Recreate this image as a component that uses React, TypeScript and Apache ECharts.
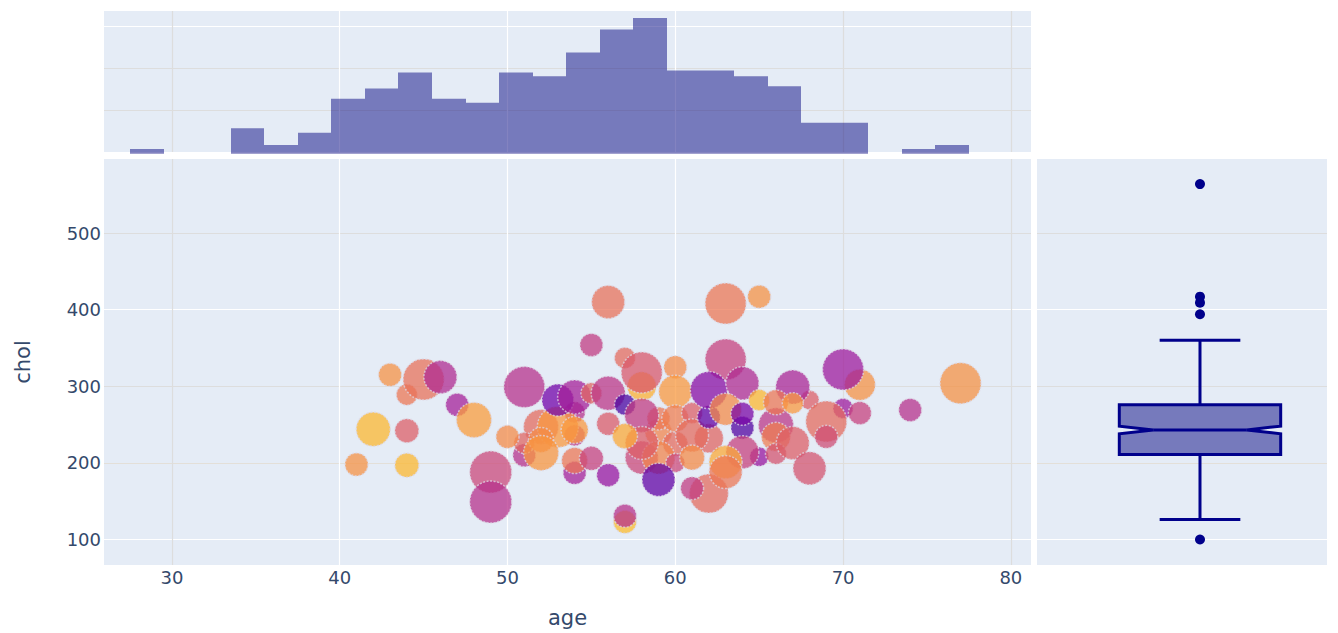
import React, { useEffect, useRef } from "react";
import * as echarts from "echarts";

const xTicks = [30, 40, 50, 60, 70, 80];
const yTicks = [100, 200, 300, 400, 500];
const histTicks = [10, 20, 30];

const binStarts = [27.5, 33.5, 35.5, 37.5, 39.5, 41.5, 43.5, 45.5, 47.5, 49.5, 51.5, 53.5, 55.5, 57.5, 59.5, 61.5, 63.5, 65.5, 67.5, 69.5, 73.5, 75.5];
const binCounts = [0.72, 5.67, 1.67, 4.6, 12.75, 15.2, 19, 12.75, 11.8, 19, 18.1, 23.8, 29.3, 32, 19.5, 19.5, 18.1, 15.7, 7, 7, 0.72, 1.67];

const ages = [59, 60, 59, 54, 54, 51, 52, 51, 53, 54, 52, 52, 41, 42, 43, 44, 44, 44, 45, 46, 47, 48, 49, 49, 50, 51, 53, 54, 55, 55, 56, 54, 54, 55, 56, 56, 56, 57, 57, 57, 58, 57, 58, 60, 60, 60, 61, 58, 58, 59, 58, 57, 60, 59, 62, 62, 61, 61, 61, 63, 63, 65, 62, 62, 64, 63, 64, 64, 65, 66, 65, 64, 63, 63, 68, 67, 66, 67, 66, 66, 67, 68, 71, 70, 70, 71, 69, 69, 74, 77];
const chols = [240, 225, 258, 266, 236, 210, 247, 226, 247, 243, 230, 213, 198, 244, 315, 289, 242, 197, 309, 312, 276, 256, 188, 149, 234, 299, 282, 286, 291, 354, 410, 187, 203, 206, 184, 291, 251, 123, 131, 337, 300, 276, 318, 325, 293, 258, 265, 262, 207, 207, 226, 235, 200, 178, 232, 160, 167, 236, 207, 335, 408, 417, 260, 295, 304, 270, 246, 264, 282, 249, 208, 214, 201, 188, 282, 299, 279, 278, 234, 212, 226, 193, 302, 322, 271, 265, 254, 234, 269, 304];
const heats = [0.7, 0.62, 0.66, 0.42, 0.44, 0.42, 0.62, 0.6, 0.76, 0.76, 0.72, 0.75, 0.74, 0.84, 0.74, 0.66, 0.58, 0.84, 0.64, 0.4, 0.36, 0.77, 0.5, 0.42, 0.72, 0.42, 0.22, 0.36, 0.6, 0.46, 0.64, 0.36, 0.66, 0.48, 0.32, 0.44, 0.57, 0.85, 0.42, 0.62, 0.82, 0.12, 0.56, 0.72, 0.76, 0.68, 0.58, 0.46, 0.5, 0.7, 0.58, 0.8, 0.5, 0.18, 0.6, 0.62, 0.46, 0.62, 0.72, 0.48, 0.66, 0.74, 0.18, 0.28, 0.4, 0.72, 0.14, 0.24, 0.84, 0.44, 0.32, 0.48, 0.8, 0.66, 0.58, 0.38, 0.66, 0.76, 0.68, 0.54, 0.58, 0.54, 0.74, 0.34, 0.34, 0.48, 0.62, 0.52, 0.42, 0.74];
const sizes = [28, 26, 24, 22, 22, 24, 36, 22, 42, 28, 26, 36, 24, 35, 24, 22, 25, 25, 42, 34, 24, 36, 43, 43, 24, 42, 33, 35, 22, 24, 34, 24, 27, 25, 24, 35, 24, 24, 24, 22, 30, 22, 42, 24, 34, 28, 22, 35, 34, 34, 34, 26, 20, 34, 30, 40, 24, 34, 26, 42, 42, 24, 24, 38, 34, 33, 24, 24, 22, 36, 20, 34, 34, 34, 20, 35, 26, 22, 30, 22, 34, 34, 32, 42, 21, 24, 42, 24, 24, 42];

const plasma = ["#0d0887", "#46039f", "#7201a8", "#9c179e", "#bd3786", "#d8576b", "#ed7953", "#fb9f3a", "#fdca26", "#f0f921"];

const boxStats = { whiskerLow: 126, q1: 211, notchLow: 238, median: 243, notchHigh: 248, q3: 276, whiskerHigh: 360 };
const outliers = [100, 394, 409, 417, 564];

const INK = "#34496b";
const PANEL = "#E5ECF6";
const FONT = "DejaVu Sans";
const WHITE = "#ffffff";
const GREY = "#dddddd";
const BEIGE = "#e3dfd8";
const NAVY = "#00008b";

export default function App() {
  const ref = useRef<HTMLDivElement>(null);
  useEffect(() => {
    const chart = echarts.init(ref.current!, undefined, { renderer: "svg" });
    const histRenderer = (_: any, api: any) => {
      const s = api.value(0);
      const a = api.coord([s, api.value(1)]);
      const b = api.coord([s + 2, 0]);
      const x0 = Math.round(a[0]);
      const x1 = Math.round(b[0]);
      return { type: "rect", shape: { x: x0, y: a[1], width: x1 - x0, height: b[1] - a[1] + 1.7 }, style: { fill: "rgba(8,8,130,0.5)" } };
    };
    const boxRenderer = (_: any, api: any) => {
      const P = (x: number, y: number) => api.coord([x, y]);
      const w = 0.5, nw = 0.29, cap = 0.25;
      const b = boxStats;
      const outline = [
        P(-w, b.q1), P(w, b.q1), P(w, b.notchLow), P(nw, b.median), P(w, b.notchHigh), P(w, b.q3),
        P(-w, b.q3), P(-w, b.notchHigh), P(-nw, b.median), P(-w, b.notchLow),
      ];
      const lineStyle = { stroke: NAVY, lineWidth: 3, fill: "none" };
      const seg = (x1: number, y1: number, x2: number, y2: number) => {
        const p = P(x1, y1), q = P(x2, y2);
        return { type: "line", shape: { x1: p[0], y1: p[1], x2: q[0], y2: q[1] }, style: lineStyle };
      };
      return {
        type: "group",
        children: [
          { type: "polygon", shape: { points: outline }, style: { fill: "rgba(8,8,130,0.5)", stroke: NAVY, lineWidth: 3 } },
          seg(-nw, b.median, nw, b.median),
          seg(0, b.q3, 0, b.whiskerHigh),
          seg(0, b.q1, 0, b.whiskerLow),
          seg(-cap, b.whiskerHigh, cap, b.whiskerHigh),
          seg(-cap, b.whiskerLow, cap, b.whiskerLow),
        ],
      };
    };
    const xGrid = { show: true, lineStyle: { color: [GREY, WHITE, WHITE, WHITE, GREY, GREY], width: 1.2 } };
    const yGrid = { show: true, lineStyle: { color: [WHITE, BEIGE, GREY, WHITE, GREY], width: 1.2 } };
    const panel = { show: true, backgroundColor: PANEL, borderWidth: 0, outerBoundsMode: "none" };
    const bare = { axisLine: { show: false }, axisTick: { show: false } };
    chart.setOption({
      animation: false,
      grid: [
        { ...panel, left: 104, top: 159, width: 927, height: 406 },
        { ...panel, left: 104, top: 11, width: 927, height: 141 },
        { ...panel, left: 1037, top: 159, width: 290, height: 406 },
      ],
      xAxis: [
        {
          type: "value", gridIndex: 0, min: 25.95, max: 81.2, ...bare,
          axisTick: { show: false, customValues: xTicks },
          axisLabel: { customValues: xTicks, color: INK, fontFamily: FONT, fontSize: 18, margin: 3 },
          splitLine: xGrid,
          name: "age", nameLocation: "middle", nameGap: 42, nameMoveOverlap: false,
          nameTextStyle: { color: INK, fontFamily: FONT, fontSize: 21 },
        },
        {
          type: "value", gridIndex: 1, min: 25.95, max: 81.2, ...bare,
          axisTick: { show: false, customValues: xTicks },
          axisLabel: { show: false, customValues: xTicks },
          splitLine: xGrid,
        },
        {
          type: "value", gridIndex: 2, min: -1.01, max: 0.787, ...bare,
          axisLabel: { show: false }, splitLine: { show: false },
        },
      ],
      yAxis: [
        {
          type: "value", gridIndex: 0, min: 66.7, max: 596.7, ...bare,
          axisTick: { show: false, customValues: yTicks },
          axisLabel: { customValues: yTicks, color: INK, fontFamily: FONT, fontSize: 18, margin: 3 },
          splitLine: yGrid,
          name: "chol", nameLocation: "middle", nameGap: 71, nameMoveOverlap: false,
          nameTextStyle: { color: INK, fontFamily: FONT, fontSize: 21 },
        },
        {
          type: "value", gridIndex: 1, min: 0, max: 33.7, ...bare,
          axisTick: { show: false, customValues: histTicks },
          axisLabel: { show: false, customValues: histTicks },
          splitLine: { show: true, lineStyle: { color: [GREY, GREY, WHITE], width: 1.2 } },
        },
        {
          type: "value", gridIndex: 2, min: 66.7, max: 596.7, ...bare,
          axisTick: { show: false, customValues: yTicks },
          axisLabel: { show: false, customValues: yTicks },
          splitLine: yGrid,
        },
      ],
      visualMap: {
        show: false, type: "continuous", seriesIndex: 0, dimension: 2, min: 0, max: 1,
        inRange: { color: plasma },
      },
      series: [
        {
          type: "scatter", xAxisIndex: 0, yAxisIndex: 0,
          data: ages.map((a, i) => [a, chols[i], heats[i], sizes[i]]),
          symbolSize: (v: number[]) => v[3] - 1,
          itemStyle: { opacity: 0.74, borderColor: "#ddd8e6", borderWidth: 1.5, borderType: [2, 1.5] },
        },
        {
          type: "custom", xAxisIndex: 1, yAxisIndex: 1,
          data: binStarts.map((s, i) => [s, binCounts[i]]),
          encode: { x: 0, y: 1 },
          renderItem: histRenderer,
        },
        {
          type: "custom", xAxisIndex: 2, yAxisIndex: 2,
          data: [[0, boxStats.median]],
          encode: { x: 0, y: 1 },
          renderItem: boxRenderer,
        },
        {
          type: "scatter", xAxisIndex: 2, yAxisIndex: 2,
          data: outliers.map((v) => [0, v]),
          symbolSize: 10,
          itemStyle: { color: NAVY, opacity: 1 },
        },
      ],
    });
    return () => chart.dispose();
  }, []);
  return <div ref={ref} style={{ position: "absolute", left: 0, top: 0, width: 1338, height: 633 }} />;
}
